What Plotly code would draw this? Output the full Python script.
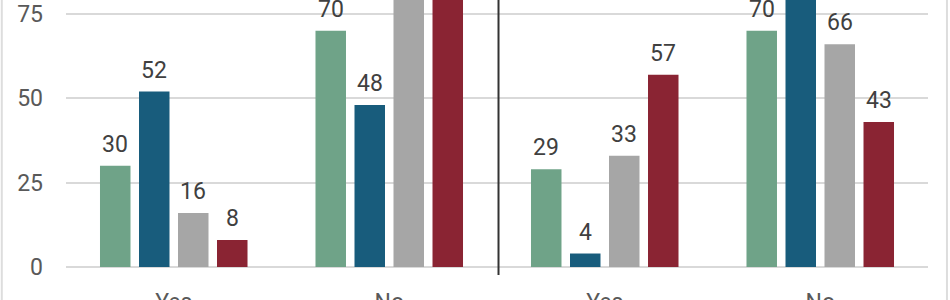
import plotly.graph_objects as go

categories = ["Yes", "No", "Yes", "No"]
series_names = ["Series 1", "Series 2", "Series 3", "Series 4"]
s1 = [30, 70, 29, 70]
s2 = [52, 48, 4, 96]
s3 = [16, 84, 33, 66]
s4 = [8, 92, 57, 43]
colors = ["#6FA388", "#185C7C", "#A6A6A6", "#8A2433"]

all_series = [s1, s2, s3, s4]
x_pos = list(range(len(categories)))

bargap = 0.276
bargroupgap = 0.218
slot = (1 - bargap) / len(all_series)

fig = go.Figure()
annotations = []
for i, (name, vals, col) in enumerate(zip(series_names, all_series, colors)):
    fig.add_trace(go.Bar(x=x_pos, y=vals, name=name, marker_color=col,
                         marker_line_width=0, showlegend=False))
    off = (i - (len(all_series) - 1) / 2) * slot
    for xp, v in zip(x_pos, vals):
        annotations.append(dict(x=xp + off, y=v, xref="x", yref="y", text=str(v),
                                showarrow=False, yanchor="bottom", yshift=6,
                                font=dict(family="Roboto", size=23, color="#404040")))

shapes = [
    dict(type="line", xref="x", yref="paper", x0=1.507, x1=1.507, y0=-0.03, y1=1.2,
         line=dict(color="#333333", width=2)),
    dict(type="line", xref="paper", yref="paper", x0=-0.0745, x1=-0.0745, y0=-0.5, y1=1.5,
         line=dict(color="#DDDDDD", width=2)),
    dict(type="line", xref="paper", yref="paper", x0=1.022, x1=1.022, y0=-0.5, y1=1.5,
         line=dict(color="#DDDDDD", width=2)),
]

fig.update_layout(
    width=950, height=300,
    margin=dict(l=66, r=22, t=0, b=33, autoexpand=False),
    paper_bgcolor="white", plot_bgcolor="white",
    barmode="group", bargap=bargap, bargroupgap=bargroupgap,
    annotations=annotations, shapes=shapes,
    font=dict(family="Roboto", size=23, color="#595959"),
    xaxis=dict(tickvals=x_pos, ticktext=categories, range=[-0.5, 3.5], automargin=False,
               showgrid=False, showline=False, zeroline=False,
               ticklabelstandoff=19, tickfont=dict(size=23, color="#595959")),
    yaxis=dict(range=[0, 79.15], tickvals=[0, 25, 50, 75], showgrid=True, automargin=False,
               gridcolor="#D9D9D9", gridwidth=1.5, zeroline=True, zerolinecolor="#D9D9D9",
               zerolinewidth=1.5, showline=False, ticklabelstandoff=22,
               tickfont=dict(size=23, color="#595959")),
)

fig.write_html("out.html")
